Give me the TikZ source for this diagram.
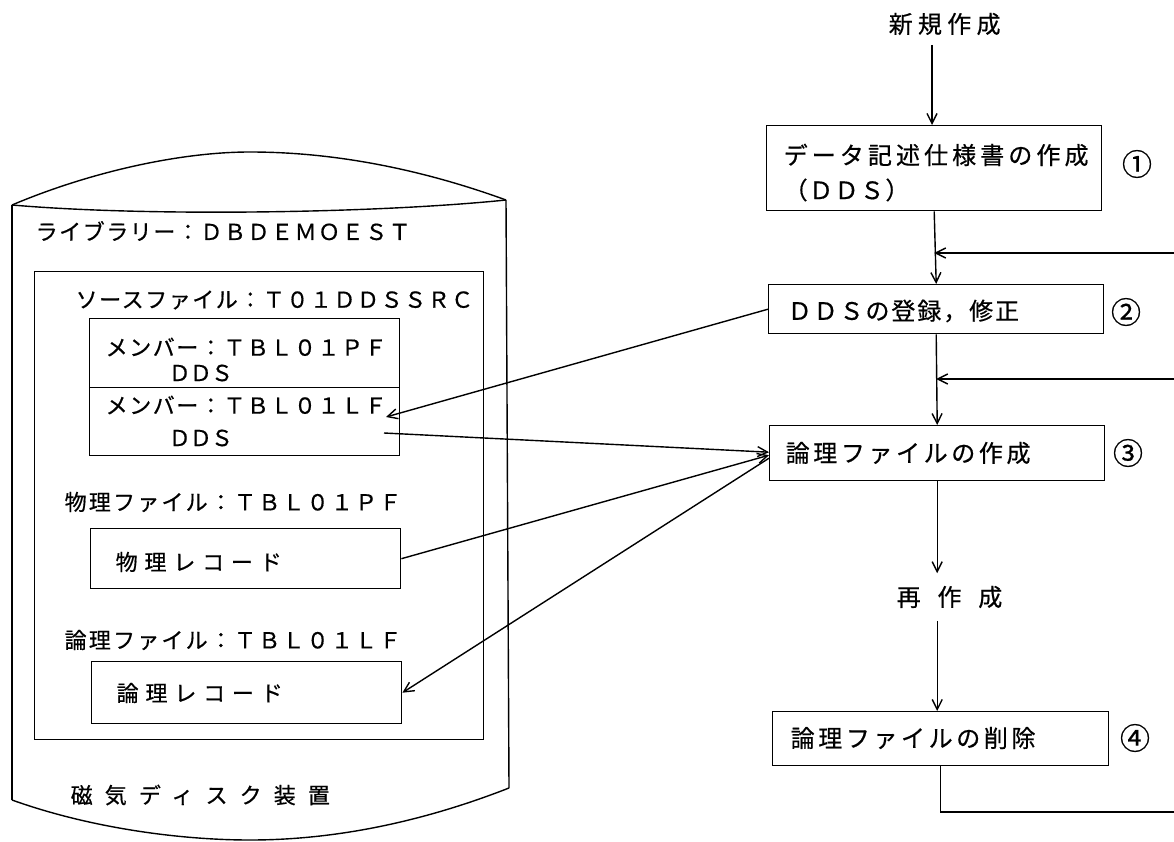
\documentclass[tikz,border=0pt]{standalone}
\usepackage{fontspec}
\setmainfont[FakeBold=0.6]{Noto Sans CJK JP}
\usetikzlibrary{arrows.meta,calc}
\newcommand\lsp[2]{{\addfontfeature{LetterSpace=#1}#2}}
\begin{document}
\begin{tikzpicture}[x=1pt,y=-1pt,line width=1.4pt,
  box/.style={draw,inner sep=0pt,anchor=north west},
  lbl/.style={anchor=west,inner sep=0pt,font=\fontsize{22}{26}\selectfont},
  flbl/.style={anchor=west,inner sep=0pt,font=\fontsize{24}{28}\selectfont},
  num/.style={inner sep=0pt,font=\fontsize{30}{34}\selectfont},
  arr/.style={-{Straight Barb[length=10pt,width=10pt]}}]
\useasboundingbox (0,0) rectangle (1174,842);
% disk cylinder
\draw (12,205) .. controls (90,172) and (180,152) .. (250,152)
      .. controls (350,152) and (440,176) .. (506,200);
\draw (12,205) .. controls (150,217) and (380,213) .. (506,200);
\draw (12,205) -- (12,800);
\draw (506,200) -- (509,788);
\draw (12,800) .. controls (90,828) and (180,840) .. (250,840)
      .. controls (350,840) and (440,815) .. (509,788);
\node[lbl] (libT) at (35,231) {\lsp{7}{ライブラリー：ＤＢＤＥＭＯＥＳＴ}};
\node[box,minimum width=449pt,minimum height=468pt] (lib) at (34,271) {};
\node[lbl] (srcT) at (75,300) {\lsp{7}{ソースファイル：Ｔ０１ＤＤＳＳＲＣ}};
\node[box,minimum width=310pt,minimum height=69pt] (memPF) at (89,318) {};
\node[box,minimum width=310pt,minimum height=68pt] (memLF) at (89,387) {};
\node[lbl] (mPF1) at (105,347) {\lsp{7}{メンバー：ＴＢＬ０１ＰＦ}};
\node[lbl] (mPF2) at (168,373) {\lsp{-4}{ＤＤＳ}};
\node[lbl] (mLF1) at (105,405) {\lsp{7}{メンバー：ＴＢＬ０１ＬＦ}};
\node[lbl] (mLF2) at (168,438) {\lsp{-4}{ＤＤＳ}};
\node[lbl] (pfT) at (64,502) {\lsp{10}{物理ファイル：ＴＢＬ０１ＰＦ}};
\node[box,minimum width=310pt,minimum height=60pt] (pr) at (90,528) {};
\node[lbl] (prT) at (115,562) {\lsp{31}{物理レコード}};
\node[lbl] (lfT) at (64,640) {\lsp{10}{論理ファイル：ＴＢＬ０１ＬＦ}};
\node[box,minimum width=310pt,minimum height=62pt] (lr) at (91,661) {};
\node[lbl] (lrT) at (116,693) {\lsp{31}{論理レコード}};
\node[lbl] (disk) at (70,795) {\lsp{55}{磁気ディスク装置}};
% flowchart
\node[flbl] (new) at (888,24) {\lsp{22}{新規作成}};
\node[box,minimum width=335pt,minimum height=85pt] (b1) at (766,125) {};
\node[flbl] (b1a) at (783,155) {\lsp{17}{データ記述仕様書の作成}};
\node[flbl] (b1b) at (783,190) {\lsp{6}{（ＤＤＳ）}};
\node[box,minimum width=335pt,minimum height=49pt] (b2) at (768,284) {};
\node[flbl] (b2a) at (787,311) {\lsp{8}{ＤＤＳの登録，修正}};
\node[box,minimum width=335pt,minimum height=55pt] (b3) at (769,425) {};
\node[flbl] (b3a) at (785,453) {\lsp{15}{論理ファイルの作成}};
\node[flbl,inner ysep=12pt] (re) at (896,597) {\lsp{70}{再作成}};
\node[box,minimum width=336pt,minimum height=54pt] (b4) at (772,711) {};
\node[flbl] (b4a) at (790,738) {\lsp{15}{論理ファイルの削除}};
\node[num] (n1) at (1137,164) {①};
\node[num] (n2) at (1126,312) {②};
\node[num] (n3) at (1128,453) {③};
\node[num] (n4) at (1135,738) {④};
% main flow
\coordinate (newB) at (932,45);
\draw[arr] (newB) -- (newB |- b1.north);
\draw[arr] (b1.south) -- (b2.north);
\draw[arr] (b2.south) -- (b3.north);
\draw[arr] (b3.south) -- (b3.south |- re.north);
\draw[arr] (b3.south |- re.south) -- (b3.south |- b4.north);
\coordinate (fb1) at (1174,253);
\coordinate (fb2) at (1174,379);
\coordinate (fb3) at (1174,812);
\draw[arr] (fb1) -- (b1.south |- fb1);
\draw[arr] (fb2) -- (b2.south |- fb2);
\draw (b4.south) |- (fb3);
% links to the disk
\coordinate (tipLF) at (386,417);
\coordinate (srcLF) at (384,433);
\draw[arr] (b2.west) -- (tipLF);
\draw[arr] (srcLF) -- ($(b3.west)+(0,-1)$);
\draw[arr] (pr.east) -- ($(b3.west)+(0,2)$);
\draw[arr] ($(b3.west)+(0,5)$) -- (lr.east);
\end{tikzpicture}
\end{document}
